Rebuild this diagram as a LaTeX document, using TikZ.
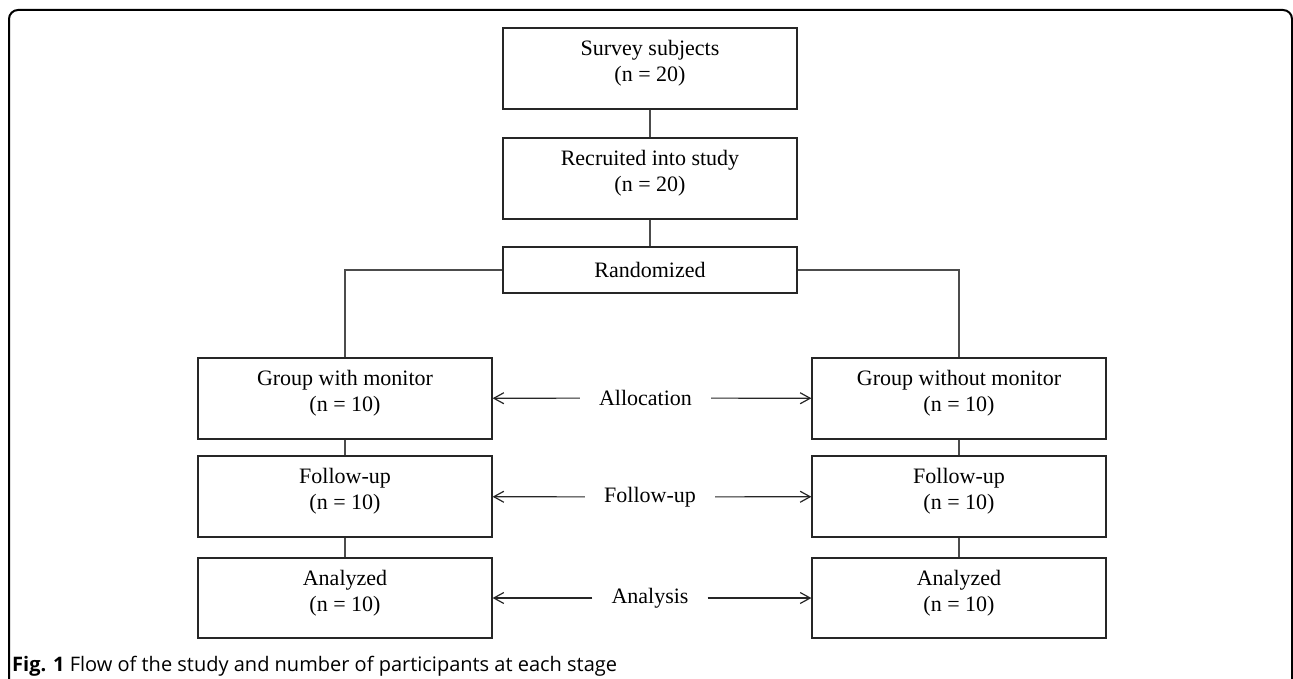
\documentclass[tikz,border=0pt]{standalone}
\usepackage{fontspec}
\setmainfont{Liberation Serif}
\newfontfamily\capfont{Open Sans}
\usetikzlibrary{arrows.meta}

\begin{document}
\begin{tikzpicture}[x=1pt,y=-1pt,
    stage/.style={draw=black!85, line width=1.2pt, minimum width=294pt, minimum height=81pt,
      align=center, text depth=15pt, font=\fontsize{22}{26}\selectfont},
    phase/.style={inner xsep=19pt, inner ysep=0pt, font=\fontsize{22}{26}\selectfont},
    link/.style={draw=black!70, line width=1.2pt},
    dir/.style={draw=black!85, line width=1.2pt, -{Straight Barb[length=10pt,width=11pt]}}]
    \useasboundingbox (0,0) rectangle (1293,679);
    \draw [line width=2pt, rounded corners=9pt] (9,679) -- (9,10) -- (1292,10) -- (1292,679);

    % trunk
    \node [stage] (survey) at (650,68.5) {Survey subjects\\(n = 20)};
    \node [stage] (recruit) at (650,178.5) {Recruited into study\\(n = 20)};
    \node [stage, minimum height=46pt, text depth=0pt] (random) at (650,270) {Randomized};

    % with monitor
    \node [stage] (withmon) at (345,398.5) {Group with monitor\\(n = 10)};
    \node [stage] (follow1) at (345,496.5) {Follow-up\\(n = 10)};
    \node [stage, minimum height=80pt] (anal1) at (345,598) {Analyzed\\(n = 10)};

    % without monitor
    \node [stage] (nomon) at (959,398.5) {Group without monitor\\(n = 10)};
    \node [stage] (follow2) at (959,496.5) {Follow-up\\(n = 10)};
    \node [stage, minimum height=80pt] (anal2) at (959,598) {Analyzed\\(n = 10)};

    \draw [link] (survey) -- (recruit);
    \draw [link] (recruit) -- (random);
    \draw [link] (random.west) -| (withmon.north);
    \draw [link] (random.east) -| (nomon.north);
    \draw [link] (withmon) -- (follow1);
    \draw [link] (follow1) -- (anal1);
    \draw [link] (nomon) -- (follow2);
    \draw [link] (follow2) -- (anal2);

    % phases
    \node [phase] (alloc) at (645.5,398) {Allocation};
    \node [phase] (follow) at (650,497) {Follow-up};
    \node [phase] (analysis) at (650,598) {Analysis};
    \foreach \p/\l/\r in {alloc/withmon/nomon, follow/follow1/follow2, analysis/anal1/anal2} {
      \draw [dir] (\p) -- (\l);
      \draw [dir] (\p) -- (\r);
    }

    \node [anchor=base west, inner sep=0pt, font=\capfont\fontsize{20}{23}\selectfont] (caption) at (12,671)
      {\textbf{Fig. 1} Flow of the study and number of participants at each stage};
  \end{tikzpicture}
\end{document}
